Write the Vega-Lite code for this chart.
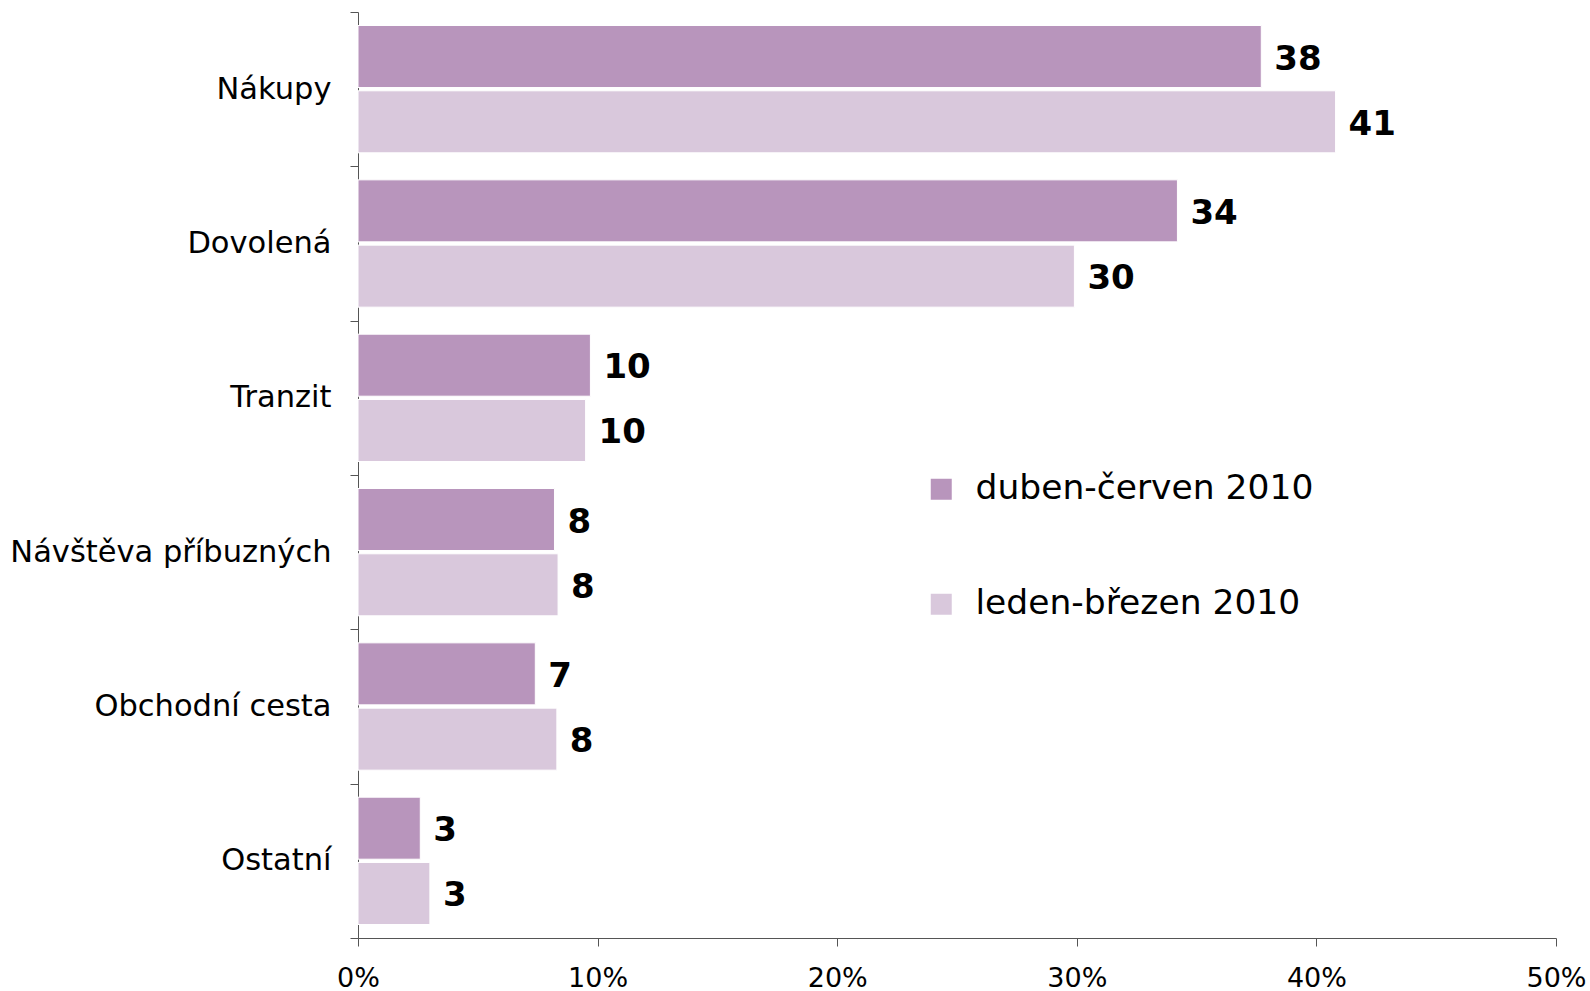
{
  "$schema": "https://vega.github.io/schema/vega-lite/v6.json",
  "autosize": {"type": "none"},
  "width": 1198,
  "height": 926,
  "padding": {"left": 358, "top": 12, "right": 34, "bottom": 53},
  "background": "white",
  "config": {
    "view": {"stroke": null},
    "font": "DejaVu Sans"
  },
  "data": {
    "values": [
      {"kategorie": "Nákupy", "obdobi": "duben-červen 2010", "podil": 37.7},
      {"kategorie": "Nákupy", "obdobi": "leden-březen 2010", "podil": 40.8},
      {"kategorie": "Dovolená", "obdobi": "duben-červen 2010", "podil": 34.2},
      {"kategorie": "Dovolená", "obdobi": "leden-březen 2010", "podil": 29.9},
      {"kategorie": "Tranzit", "obdobi": "duben-červen 2010", "podil": 9.7},
      {"kategorie": "Tranzit", "obdobi": "leden-březen 2010", "podil": 9.5},
      {"kategorie": "Návštěva příbuzných", "obdobi": "duben-červen 2010", "podil": 8.2},
      {"kategorie": "Návštěva příbuzných", "obdobi": "leden-březen 2010", "podil": 8.35},
      {"kategorie": "Obchodní cesta", "obdobi": "duben-červen 2010", "podil": 7.4},
      {"kategorie": "Obchodní cesta", "obdobi": "leden-březen 2010", "podil": 8.3},
      {"kategorie": "Ostatní", "obdobi": "duben-červen 2010", "podil": 2.6},
      {"kategorie": "Ostatní", "obdobi": "leden-březen 2010", "podil": 3.0}
    ]
  },
  "encoding": {
    "y": {
      "field": "kategorie",
      "type": "nominal",
      "sort": null,
      "scale": {"paddingInner": 0, "paddingOuter": 0},
      "axis": {
        "title": null,
        "tickBand": "extent",
        "domainColor": "#555555",
        "tickColor": "#555555",
        "tickSize": 8,
        "labelPadding": 19,
        "labelFontSize": 30.5,
        "labelColor": "#000000",
        "labelFont": "DejaVu Sans",
        "labelLimit": 400
      }
    },
    "yOffset": {
      "field": "obdobi",
      "type": "nominal",
      "sort": ["duben-červen 2010", "leden-březen 2010"],
      "scale": {"paddingInner": 0.05, "paddingOuter": 0.207}
    },
    "x": {
      "field": "podil",
      "type": "quantitative",
      "scale": {"domain": [0, 50], "nice": false},
      "axis": {
        "title": null,
        "values": [0, 10, 20, 30, 40, 50],
        "labelExpr": "datum.value + '%'",
        "labelFlush": false,
        "labelOverlap": false,
        "grid": false,
        "domainColor": "#555555",
        "tickColor": "#555555",
        "tickSize": 8,
        "labelPadding": 19,
        "labelFontSize": 27,
        "labelColor": "#000000",
        "labelFont": "DejaVu Sans"
      }
    }
  },
  "layer": [
    {
      "mark": {"type": "bar", "stroke": "white", "strokeWidth": 1},
      "encoding": {
        "color": {
          "field": "obdobi",
          "type": "nominal",
          "sort": ["duben-červen 2010", "leden-březen 2010"],
          "scale": {"range": ["#B895BC", "#D9C8DC"]},
          "legend": {
            "title": null,
            "orient": "none",
            "legendX": 566,
            "legendY": 460,
            "symbolType": "square",
            "symbolSize": 441,
            "symbolStrokeWidth": 0,
            "labelFontSize": 34.5,
            "labelColor": "#000000",
            "labelFont": "DejaVu Sans",
            "labelOffset": 17,
            "rowPadding": 80,
            "labelLimit": 500
          }
        }
      }
    },
    {
      "mark": {"type": "text", "align": "left", "baseline": "middle", "dx": 13, "dy": 3, "fontSize": 34, "fontWeight": "bold", "font": "DejaVu Sans", "color": "#000000"},
      "encoding": {
        "text": {"field": "podil", "type": "quantitative", "format": ".0f"}
      }
    }
  ]
}
